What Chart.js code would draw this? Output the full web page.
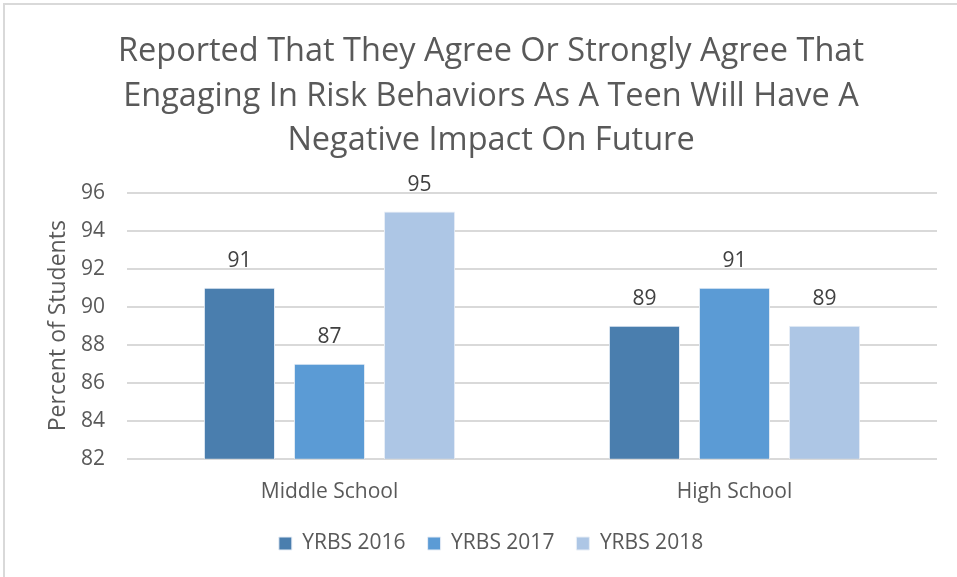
<!DOCTYPE html>
<html>
<head>
<meta charset="utf-8">
<script src="https://cdn.jsdelivr.net/npm/chart.js@4.4.1/dist/chart.umd.min.js"></script>
<style>
  html, body { margin: 0; padding: 0; background: #fff; overflow: hidden; }
  #wrap { position: absolute; left: 0; top: 0; width: 957px; height: 577px; }
  #frame { position: absolute; left: 3px; top: 3px; width: 980px; height: 600px;
           border: 2px solid #d9d9d9; pointer-events: none; }
</style>
</head>
<body>
<div id="wrap"><canvas id="chart" width="957" height="577"></canvas></div>
<div id="frame"></div>
<script>
"use strict";

var categories = ['Middle School', 'High School'];
var yrbs2016 = [91, 89];
var yrbs2017 = [87, 91];
var yrbs2018 = [95, 89];
var titleLines = [
    'Reported That They Agree Or Strongly Agree That',
    'Engaging In Risk Behaviors As A Teen Will Have A',
    'Negative Impact On Future'
];

var FONT = "'Open Sans', sans-serif";

// draws the value above each bar, using the bar elements' own positions
var barValues = {
    id: 'barValues',
    afterDatasetsDraw: function (chart) {
        var ctx = chart.ctx;
        ctx.save();
        ctx.font = '21px ' + FONT;
        ctx.fillStyle = '#404040';
        ctx.textAlign = 'center';
        ctx.textBaseline = 'middle';
        chart.data.datasets.forEach(function (ds, i) {
            var meta = chart.getDatasetMeta(i);
            meta.data.forEach(function (bar, j) {
                ctx.fillText(ds.data[j], bar.x, bar.y - 27);
            });
        });
        ctx.restore();
    }
};

var ctx1 = document.getElementById('chart').getContext('2d');
var mainChart = new Chart(ctx1, {
    type: 'bar',
    data: {
        labels: categories,
        datasets: [{
            label: 'YRBS 2016',
            data: yrbs2016,
            backgroundColor: '#4a7eae',
            borderColor: '#e8eef6',
            borderWidth: 1
        }, {
            label: 'YRBS 2017',
            data: yrbs2017,
            backgroundColor: '#5b9bd5',
            borderColor: '#e8eef6',
            borderWidth: 1
        }, {
            label: 'YRBS 2018',
            data: yrbs2018,
            backgroundColor: '#adc6e5',
            borderColor: '#e8eef6',
            borderWidth: 1
        }]
    },
    options: {
        responsive: false,
        animation: false,
        categoryPercentage: 0.667,
        barPercentage: 0.79,
        layout: { padding: { left: 45, right: 20, top: 29, bottom: 13 } },
        plugins: {
            title: {
                display: true,
                text: titleLines,
                color: '#595959',
                font: { family: FONT, size: 32.5, weight: '400', lineHeight: 1.38 },
                padding: { top: 0, bottom: 29 }
            },
            legend: {
                position: 'bottom',
                labels: {
                    color: '#595959',
                    font: { family: FONT, size: 21 },
                    boxWidth: 13,
                    boxHeight: 13,
                    padding: 22
                }
            },
            tooltip: { enabled: false }
        },
        scales: {
            x: {
                grid: { display: false, drawTicks: false },
                border: { display: false },
                ticks: { color: '#595959', font: { family: FONT, size: 21 }, padding: 21 },
                afterFit: function (scale) { scale.height -= 15; }
            },
            y: {
                min: 82,
                max: 96,
                ticks: { stepSize: 2, color: '#595959', font: { family: FONT, size: 21 }, padding: 22 },
                grid: { color: '#d9d9d9', lineWidth: 2, drawTicks: false },
                border: { display: false },
                title: {
                    display: true,
                    text: 'Percent of Students',
                    color: '#595959',
                    font: { family: FONT, size: 23 },
                    padding: { top: 0, bottom: 0 }
                },
                afterFit: function (scale) { scale.width = 82; }
            }
        }
    },
    plugins: [barValues]
});
</script>
</body>
</html>
